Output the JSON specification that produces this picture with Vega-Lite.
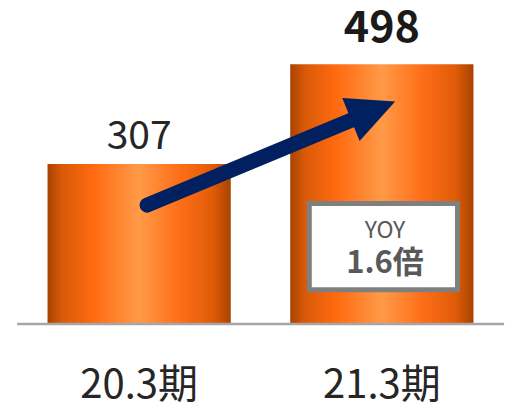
{
  "$schema": "https://vega.github.io/schema/vega-lite/v6.json",
  "width": 509,
  "height": 406,
  "padding": 0,
  "autosize": {"type": "none"},
  "background": "white",
  "config": {"view": {"stroke": null}},
  "data": {"values": [{"period": "20.3期", "sales": 307}, {"period": "21.3期", "sales": 498}]},
  "layer": [
    {
      "mark": {"type": "bar", "color": {"gradient": "linear", "x1": 0, "y1": 0, "x2": 1, "y2": 0, "stops": [
        {"offset": 0, "color": "#a84300"},
        {"offset": 0.08, "color": "#d95a08"},
        {"offset": 0.25, "color": "#ff6a10"},
        {"offset": 0.5, "color": "#ff9a48"},
        {"offset": 0.72, "color": "#ff6e18"},
        {"offset": 0.9, "color": "#e05c08"},
        {"offset": 1, "color": "#a84300"}
      ]}},
      "encoding": {
        "x": {"field": "period", "type": "nominal", "axis": null,
              "scale": {"domain": ["20.3期", "21.3期"], "range": [-1, 522], "paddingInner": 0.245, "paddingOuter": 0.2}},
        "y": {"field": "sales", "type": "quantitative", "axis": null,
              "scale": {"domain": [-157.2, 621.3], "nice": false, "zero": false}}
      }
    },
    {
      "data": {"values": [{"item": "baseline"}]},
      "mark": {"type": "rule", "color": "#a6a6a6", "strokeWidth": 2.5},
      "encoding": {
        "x": {"datum": "20.3期", "type": "nominal", "bandPosition": -0.166},
        "x2": {"datum": "21.3期", "bandPosition": 1.167},
        "y": {"datum": 0, "type": "quantitative"}
      }
    },
    {
      "transform": [{"filter": "datum.period === '20.3期'"}],
      "mark": {"type": "text", "font": "Noto Sans CJK JP", "fontSize": 39, "color": "#262626", "baseline": "alphabetic", "dy": -15},
      "encoding": {
        "x": {"field": "period", "type": "nominal"},
        "y": {"field": "sales", "type": "quantitative"},
        "text": {"field": "sales", "type": "quantitative"}
      }
    },
    {
      "transform": [{"filter": "datum.period === '21.3期'"}],
      "mark": {"type": "text", "font": "Noto Sans CJK JP", "fontSize": 43, "fontWeight": "bold", "color": "#1a1a1a", "baseline": "alphabetic", "dy": -22},
      "encoding": {
        "x": {"field": "period", "type": "nominal"},
        "y": {"field": "sales", "type": "quantitative"},
        "text": {"field": "sales", "type": "quantitative"}
      }
    },
    {
      "mark": {"type": "text", "font": "Noto Sans CJK JP", "fontSize": 40, "color": "#262626", "baseline": "alphabetic", "dy": 74},
      "encoding": {
        "x": {"field": "period", "type": "nominal"},
        "y": {"datum": 0, "type": "quantitative"},
        "text": {"field": "period", "type": "nominal"}
      }
    },
    {
      "data": {"values": [{"item": "arrow"}]},
      "mark": {"type": "rule", "color": "#002060", "strokeWidth": 15, "strokeCap": "round"},
      "encoding": {
        "x": {"datum": "20.3期", "type": "nominal", "bandPosition": 0.543},
        "x2": {"datum": "21.3期", "bandPosition": 0.381},
        "y": {"datum": 228, "type": "quantitative"},
        "y2": {"datum": 397.9}
      }
    },
    {
      "data": {"values": [{"item": "arrowhead"}]},
      "mark": {"type": "point", "shape": "M1,0L-1,-0.97L-1,0.97Z", "size": 2275, "angle": 338, "filled": true, "color": "#002060", "opacity": 1, "strokeWidth": 0},
      "encoding": {
        "x": {"datum": "21.3期", "type": "nominal", "bandPosition": 0.452},
        "y": {"datum": 409.4, "type": "quantitative"}
      }
    },
    {
      "data": {"values": [{"item": "yoy box"}]},
      "mark": {"type": "rect", "fill": "white", "stroke": "#7f7f7f", "strokeWidth": 5},
      "encoding": {
        "x": {"datum": "21.3期", "type": "nominal", "bandPosition": 0.104},
        "x2": {"datum": "21.3期", "bandPosition": 0.913},
        "y": {"datum": 231, "type": "quantitative"},
        "y2": {"datum": 65.6}
      }
    },
    {
      "data": {"values": [{"label": "YOY"}]},
      "mark": {"type": "text", "font": "Noto Sans CJK JP", "fontSize": 23, "color": "#595959", "baseline": "alphabetic"},
      "encoding": {
        "x": {"datum": "21.3期", "type": "nominal", "bandPosition": 0.517},
        "y": {"datum": 164.3, "type": "quantitative"},
        "text": {"field": "label", "type": "nominal"}
      }
    },
    {
      "data": {"values": [{"label": "1.6倍"}]},
      "mark": {"type": "text", "font": "Noto Sans CJK JP", "fontSize": 31, "fontWeight": "bold", "color": "#595959", "baseline": "alphabetic"},
      "encoding": {
        "x": {"datum": "21.3期", "type": "nominal", "bandPosition": 0.517},
        "y": {"datum": 97.2, "type": "quantitative"},
        "text": {"field": "label", "type": "nominal"}
      }
    }
  ]
}
